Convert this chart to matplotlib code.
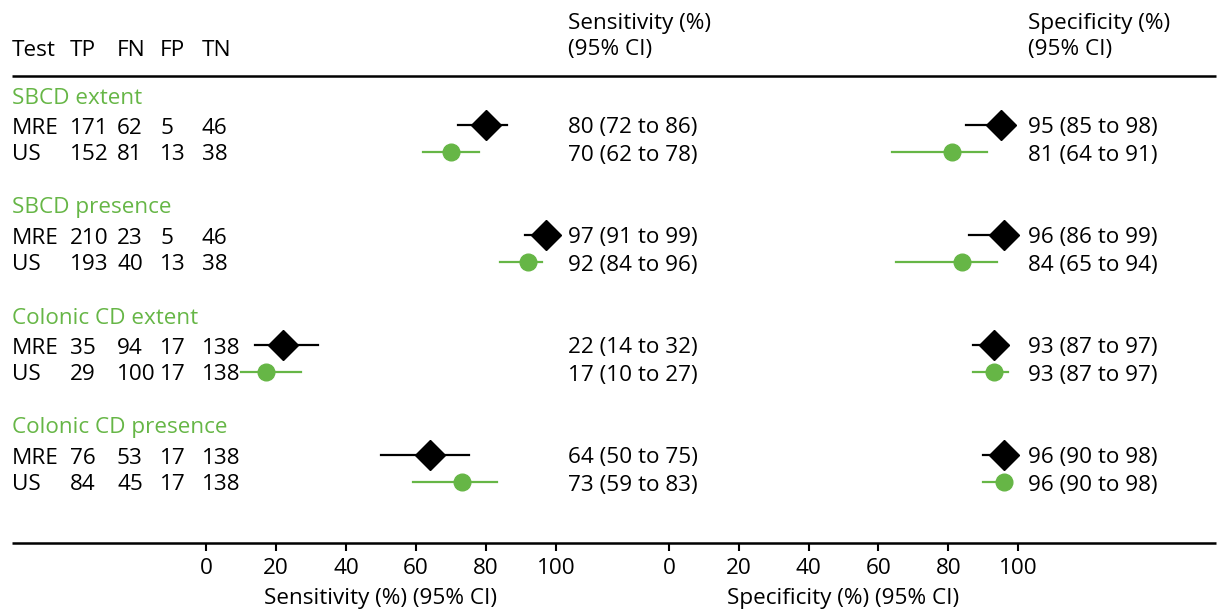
import matplotlib
matplotlib.use("Agg")
import matplotlib.pyplot as plt

plt.rcParams['font.family'] = ['Open Sans', 'DejaVu Sans']

groups = ["SBCD extent", "SBCD presence", "Colonic CD extent", "Colonic CD presence"]
tests = ["MRE", "US"]
TP = [[171, 152], [210, 193], [35, 29], [76, 84]]
FN = [[62, 81], [23, 40], [94, 100], [53, 45]]
FP = [[5, 13], [5, 13], [17, 17], [17, 17]]
TN = [[46, 38], [46, 38], [138, 138], [138, 138]]
sens = [[80, 70], [97, 92], [22, 17], [64, 73]]
sens_lo = [[72, 62], [91, 84], [14, 10], [50, 59]]
sens_hi = [[86, 78], [99, 96], [32, 27], [75, 83]]
spec = [[95, 81], [96, 84], [93, 93], [96, 96]]
spec_lo = [[85, 64], [86, 65], [87, 87], [90, 90]]
spec_hi = [[98, 91], [99, 94], [97, 97], [98, 98]]
ticks = [0, 20, 40, 60, 80, 100]

GREEN = '#66b646'
BLACK = '#000000'
W, H = 1226, 612
FS = 16.2
DY = 3  # text vertical nudge (pixels)

fig = plt.figure(figsize=(W / 100, H / 100), dpi=100)
base = fig.add_axes([0, 0, 1, 1])
base.set_xlim(0, W)
base.set_ylim(H, 0)
base.axis('off')

TOP, BOT = 76, 543

def row_y(g, r):
    return 95 + 110 * g + 30 + 27 * r

def group_y(g):
    return 95 + 110 * g

def txt(x, y, s, **kw):
    base.text(x, y + DY, s, fontsize=FS, va='center', ha='left', **kw)

# header
col_x = [12, 70, 117, 160, 202]
for x, t in zip(col_x, ["Test", "TP", "FN", "FP", "TN"]):
    txt(x, 47, t)
txt(568, 20, "Sensitivity (%)")
txt(568, 47, "(95% CI)")
txt(1028, 20, "Specificity (%)")
txt(1028, 47, "(95% CI)")
base.plot([12, 1216], [TOP, TOP], color='black', lw=1.8, solid_capstyle='butt')
base.plot([12, 1216], [BOT, BOT], color='black', lw=1.8, solid_capstyle='butt')

for g, name in enumerate(groups):
    txt(12, group_y(g), name, color=GREEN)
    for r, t in enumerate(tests):
        y = row_y(g, r)
        vals = [t, TP[g][r], FN[g][r], FP[g][r], TN[g][r]]
        for x, v in zip(col_x, vals):
            txt(x, y, str(v))
        txt(568, y, f"{sens[g][r]} ({sens_lo[g][r]} to {sens_hi[g][r]})")
        txt(1028, y, f"{spec[g][r]} ({spec_lo[g][r]} to {spec_hi[g][r]})")

def forest_axes(x0, x1, est, lo, hi, label):
    ax = fig.add_axes([x0 / W, (H - BOT) / H, (x1 - x0) / W, (BOT - TOP) / H])
    ax.set_xlim(0, 100)
    ax.set_ylim(BOT, TOP)
    ax.patch.set_alpha(0)
    for s in ['top', 'left', 'right', 'bottom']:
        ax.spines[s].set_visible(False)
    ax.set_yticks([])
    ax.set_xticks(ticks)
    ax.set_xticklabels([str(t) for t in ticks], fontsize=FS)
    ax.tick_params(axis='x', direction='out', length=6, width=1.5, pad=5)
    ax.set_xlabel(label, fontsize=FS, labelpad=6)
    for g in range(len(groups)):
        for r in range(2):
            y = row_y(g, r)
            col = BLACK if r == 0 else GREEN
            ax.plot([lo[g][r], hi[g][r]], [y, y], color=col, lw=1.6, clip_on=False)
            if r == 0:
                ax.plot(est[g][r], y, marker='D', ms=15, color=BLACK, clip_on=False)
            else:
                ax.plot(est[g][r], y, marker='o', ms=12, color=GREEN, clip_on=False)
    return ax

forest_axes(206, 556, sens, sens_lo, sens_hi, "Sensitivity (%) (95% CI)")
forest_axes(669, 1018, spec, spec_lo, spec_hi, "Specificity (%) (95% CI)")

fig.savefig("out.png", dpi=100)
